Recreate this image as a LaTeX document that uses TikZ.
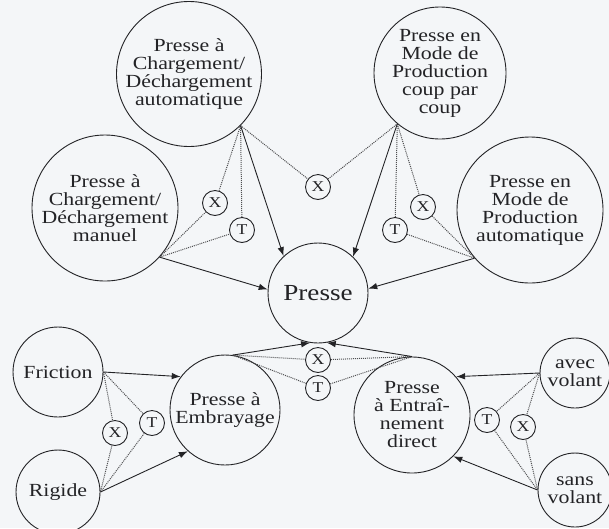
\documentclass[tikz,border=0pt]{standalone}
\usepackage{fontspec}
\setmainfont{Liberation Serif}[FakeStretch=1.18]
\usetikzlibrary{arrows.meta}
\definecolor{paper}{RGB}{244,246,248}
\definecolor{ink}{RGB}{35,35,38}
\begin{document}
\begin{tikzpicture}[x=1pt,y=-1pt,
  bub/.style={circle,draw=ink,line width=0.9pt,inner sep=0pt,align=center,text=ink,
    font=\fontsize{18.5}{18}\selectfont},
  tag/.style={circle,draw=ink,line width=0.9pt,inner sep=0pt,minimum size=25pt,text=ink,
    font=\fontsize{15}{15}\selectfont},
  dots/.style={draw=ink!80,line width=1pt,dash pattern=on 1pt off 1pt},
  arr/.style={draw=ink,line width=0.9pt,-{Latex[length=9pt,width=6.5pt]}}]
  \fill[paper] (0,0) rectangle (609,528);
  \useasboundingbox (0,0) rectangle (609,528);
  \clip (0,0) rectangle (609,528);
  \node[bub,minimum size=142pt] (auto) at (189,74) {Presse à\\Chargement/\\Déchargement\\automatique};
  \node[bub,minimum size=132pt] (coup) at (440,73) {Presse en\\Mode de\\Production\\coup par\\coup};
  \node[bub,minimum size=146pt] (manu) at (105,208) {Presse à\\Chargement/\\Déchargement\\manuel};
  \node[bub,minimum size=146pt] (prod) at (530,210) {Presse en\\Mode de\\Production\\automatique};
  \node[bub,minimum size=100pt,font=\fontsize{23}{23}\selectfont] (presse) at (318,293) {Presse};
  \node[bub,minimum size=110pt] (embr) at (225,410) {Presse à\\Embrayage};
  \node[bub,minimum size=116pt] (entr) at (412,415) {Presse\\à Entraî-\\nement\\direct};
  \node[bub,minimum size=90pt] (fric) at (58,372) {Friction};
  \node[bub,minimum size=84pt] (rigi) at (58,492) {Rigide};
  \node[bub,minimum size=70pt] (avec) at (575,373) {avec\\volant};
  \node[bub,minimum size=74pt] (sans) at (575,490) {sans\\volant};
  \node[tag] (xa) at (215,203) {X}; \node[tag] (ta) at (242,230) {T};
  \node[tag] (xc) at (318,187) {X};
  \node[tag] (xb) at (423,207) {X}; \node[tag] (tb) at (395,230) {T};
  \node[tag] (xm) at (318,360) {X}; \node[tag] (tm) at (318,388) {T};
  \node[tag] (xf) at (115,433) {X}; \node[tag] (tf) at (152,423) {T};
  \node[tag] (tv) at (487,420) {T}; \node[tag] (xv) at (523,427) {X};
  \draw[dots] (manu.-42) -- (xa) -- (auto.-45);
  \draw[dots] (manu.-42) -- (ta) -- (auto.-45);
  \draw[dots] (auto.-45) -- (xc) -- (coup.-130);
  \draw[dots] (coup.-130) -- (xb) -- (prod.-139);
  \draw[dots] (coup.-130) -- (tb) -- (prod.-139);
  \draw[dots] (embr.82) -- (xm) -- (entr.90);
  \draw[dots] (embr.82) -- (tm) -- (entr.90);
  \draw[dots] (fric.0) -- (xf) -- (rigi.0);
  \draw[dots] (fric.0) -- (tf) -- (rigi.0);
  \draw[dots] (avec.180) -- (tv) -- (sans.180);
  \draw[dots] (avec.180) -- (xv) -- (sans.180);
  \draw[arr] (auto.-45) -- (presse.133);
  \draw[arr] (coup.-130) -- (presse.46);
  \draw[arr] (manu.-42) -- (presse.176);
  \draw[arr] (prod.-139) -- (presse.5);
  \draw[arr] (embr.82) -- (presse.-99);
  \draw[arr] (entr.90) -- (presse.-80);
  \draw[arr] (fric.0) -- (embr.143);
  \draw[arr] (rigi.0) -- (embr.-132);
  \draw[arr] (avec.180) -- (entr.41);
  \draw[arr] (sans.180) -- (entr.-45);
\end{tikzpicture}
\end{document}
